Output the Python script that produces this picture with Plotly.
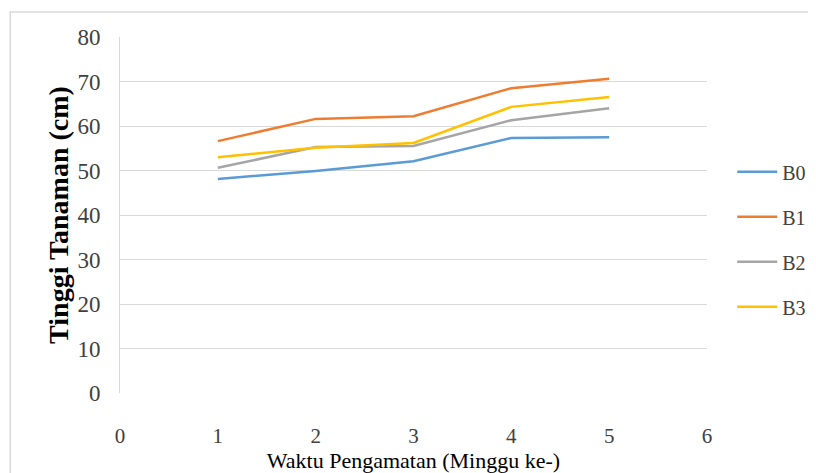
import plotly.graph_objects as go

weeks = [1, 2, 3, 4, 5]
B0 = [48.1, 49.9, 52.1, 57.3, 57.5]
B1 = [56.6, 61.6, 62.2, 68.5, 70.6]
B2 = [50.6, 55.3, 55.5, 61.3, 64.0]
B3 = [53.0, 55.1, 56.2, 64.3, 66.5]
series = [("B0", B0, "#5B9BD5"), ("B1", B1, "#ED7D31"), ("B2", B2, "#A5A5A5"), ("B3", B3, "#FFC000")]

x_ticks = [0, 1, 2, 3, 4, 5, 6]
y_ticks = [0, 10, 20, 30, 40, 50, 60, 70, 80]

FONT = "Liberation Serif, Times New Roman, serif"

fig = go.Figure()
for i, (name, vals, col) in enumerate(series):
    fig.add_trace(go.Scatter(x=weeks, y=vals, mode="lines", name=name,
                             legendgroup=name,
                             line=dict(color=col, width=2.5)))

fig.update_layout(
    width=816, height=473,
    margin=dict(l=112, r=117, t=29, b=88),
    paper_bgcolor="white", plot_bgcolor="white",
    font=dict(family=FONT, size=18, color="#404040"),
    showlegend=True,
    legend=dict(xref="container", yref="container", x=0.8875, y=0.695,
                xanchor="left", yanchor="top",
                traceorder="grouped", tracegroupgap=16,
                font=dict(family=FONT, size=20, color="#404040"),
                itemwidth=40, bgcolor="rgba(0,0,0,0)"),
    xaxis=dict(range=[0, 6], tickvals=x_ticks, showgrid=False, zeroline=False,
               showline=False, ticks="", ticklabelstandoff=28, automargin=False,
               tickfont=dict(family=FONT, size=21, color="#404040"),
               title=dict(text="Waktu Pengamatan (Minggu ke-)",
                          font=dict(family=FONT, size=22, color="#000000"),
                          standoff=2)),
    yaxis=dict(range=[0, 80], tickvals=y_ticks, showgrid=True, gridcolor="#D9D9D9",
               gridwidth=1, zeroline=False, showline=True, linecolor="#D9D9D9",
               ticks="", ticklabelstandoff=14, automargin=False,
               tickfont=dict(family=FONT, size=23, color="#404040"),
               title=dict(text="<b>Tinggi Tanaman (cm)</b>",
                          font=dict(family=FONT, size=28, color="#000000"),
                          standoff=0)),
    shapes=[dict(type="rect", xref="paper", yref="paper",
                 x0=-0.187, x1=1.4, y0=-0.6, y1=1.07,
                 line=dict(color="#D9D9D9", width=1.5), fillcolor="rgba(0,0,0,0)",
                 layer="above")],
)

fig.write_html("out.html")
